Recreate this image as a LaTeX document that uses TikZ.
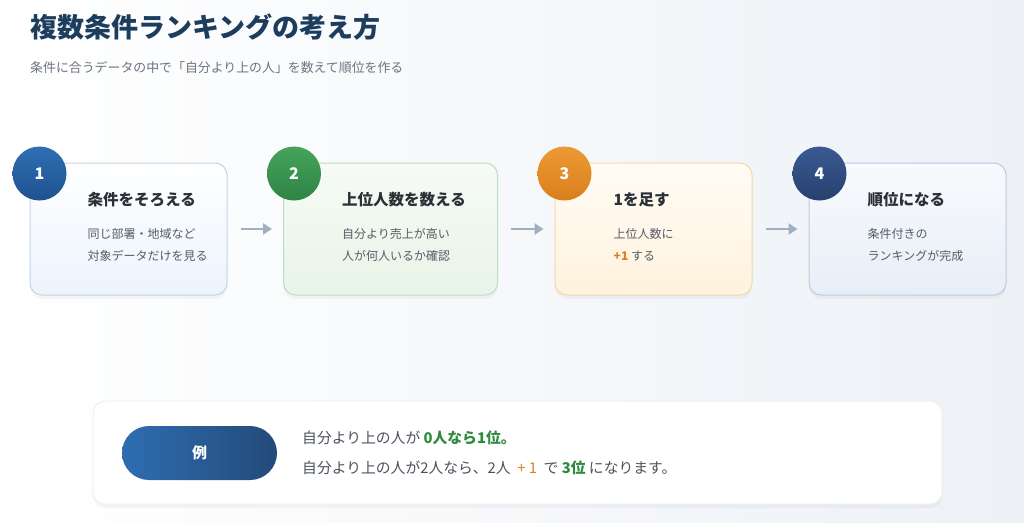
\documentclass[tikz,border=0pt]{standalone}
\usepackage{fontspec}
\setmainfont{Noto Sans CJK JP}
\usetikzlibrary{positioning,arrows.meta,calc,shadows}
\definecolor{haikei}{HTML}{EDF1F6}
\definecolor{kon}{HTML}{1C3D5E}
\definecolor{haiiro}{HTML}{6B7480}
\definecolor{moji}{HTML}{2B2F36}
\definecolor{usumoji}{HTML}{555C66}
\definecolor{yajiiro}{HTML}{9FB0C3}
\definecolor{ao}{HTML}{2E6FB4}
\definecolor{koiao}{HTML}{1F528E}
\definecolor{midori}{HTML}{45A35A}
\definecolor{koimidori2}{HTML}{2F8445}
\definecolor{daidai}{HTML}{EC9A34}
\definecolor{koidaidai2}{HTML}{D97F1C}
\definecolor{ai}{HTML}{3A5A92}
\definecolor{koiai}{HTML}{27406E}
\definecolor{koimidori}{HTML}{2E8B3E}
\definecolor{koidaidai}{HTML}{D9821F}
\definecolor{pillhidari}{HTML}{2E6DB2}
\definecolor{pillmigi}{HTML}{234A78}
\tikzset{
  hako/.style={rounded corners=12pt,line width=1pt,minimum width=197pt,minimum height=132pt,
    drop shadow={opacity=0.07,shadow xshift=0pt,shadow yshift=-4pt}},
  maru/.style={circle,minimum size=54pt,inner sep=0pt,text=white,font=\fontsize{16}{16}\selectfont\bfseries},
  midashi/.style={anchor=west,inner sep=0pt,text=moji,font=\fontsize{15.5}{18}\selectfont\bfseries},
  setsumei/.style={anchor=west,inner sep=0pt,align=left,text=usumoji,font=\fontsize{12}{22}\selectfont},
  yaji/.style={-{Triangle[length=9pt,width=11pt]},line width=2.5pt,draw=yajiiro,shorten <=13pt,shorten >=11pt},
  reibun/.style={anchor=west,inner sep=0pt,text=usumoji!90!black,font=\fontsize{14.8}{17}\selectfont},
}

\begin{document}
\begin{tikzpicture}[x=1pt,y=-1pt]
  \useasboundingbox (0,0) rectangle (1024,522);
  \shade[left color=white,right color=haikei] (0,0) rectangle (1024,522);

  % title
  \node[anchor=west,inner sep=0pt,text=kon,font=\fontsize{27}{30}\selectfont\bfseries] (daimei) at (30,27) {複数条件ランキングの考え方};
  \node[anchor=west,inner sep=0pt,text=haiiro,font=\fontsize{12.9}{15}\selectfont] (fukudai) at (30,68) {条件に合うデータの中で「自分より上の人」を数えて順位を作る};

  % steps
  \node[hako,draw={rgb,255:red,196;green,212;blue,228},top color=white,bottom color={rgb,255:red,236;green,244;blue,252}] (k1) at (128.5,229) {};
  \node[hako,draw={rgb,255:red,190;green,220;blue,195},minimum width=214pt,top color={rgb,255:red,246;green,251;blue,245},bottom color={rgb,255:red,232;green,244;blue,232}] (k2) at (390.5,229) {};
  \node[hako,draw={rgb,255:red,245;green,216;blue,170},top color={rgb,255:red,255;green,252;blue,245},bottom color={rgb,255:red,255;green,242;blue,222}] (k3) at (653.5,229) {};
  \node[hako,draw={rgb,255:red,190;green,202;blue,220},top color={rgb,255:red,248;green,250;blue,253},bottom color={rgb,255:red,232;green,238;blue,247}] (k4) at (907.5,229) {};

  \node[maru,top color=ao,bottom color=koiao] (m1) at ($(k1.north west)+(10,11)$) {1};
  \node[maru,top color=midori,bottom color=koimidori2] (m2) at ($(k2.north west)+(11,11)$) {2};
  \node[maru,top color=daidai,bottom color=koidaidai2] (m3) at ($(k3.north west)+(10,11)$) {3};
  \node[maru,top color=ai,bottom color=koiai] (m4) at ($(k4.north west)+(11,11)$) {4};

  \node[midashi] (t1) at ($(k1.west)+(58,-29)$) {条件をそろえる};
  \node[setsumei] (s1) at ($(k1.west)+(58,16)$) {同じ部署・地域など\\対象データだけを見る};
  \node[midashi] (t2) at ($(k2.west)+(59,-29)$) {上位人数を数える};
  \node[setsumei] (s2) at ($(k2.west)+(59,16)$) {自分より売上が高い\\人が何人いるか確認};
  \node[midashi] (t3) at ($(k3.west)+(59,-29)$) {1を足す};
  \node[setsumei] (s3) at ($(k3.west)+(59,16)$) {上位人数に\\{\color{koidaidai}\bfseries +1} する};
  \node[midashi] (t4) at ($(k4.west)+(59,-29)$) {順位になる};
  \node[setsumei] (s4) at ($(k4.west)+(59,16)$) {条件付きの\\ランキングが完成};

  \draw[yaji] (k1.east) -- (k2.west);
  \draw[yaji] (k2.east) -- (k3.west);
  \draw[yaji] (k3.east) -- (k4.west);

  % example
  \node[hako,draw=gray!12,fill=white,minimum width=849pt,minimum height=103pt] (rei) at (517.5,452.5) {};
  \node[rounded corners=27pt,minimum width=155pt,minimum height=54pt,left color=pillhidari,right color=pillmigi,
    text=white,font=\fontsize{15}{16}\selectfont\bfseries] (pill) at (199.5,453) {例};
  \node[reibun] (r1) at (302,438) {自分より上の人が {\color{koimidori}\bfseries 0人なら1位。}};
  \node[reibun] (r2) at (302,468) {自分より上の人が2人なら、2人\ \ {\color{koidaidai}+ 1}\ \ で {\color{koimidori}\bfseries 3位} になります。};
\end{tikzpicture}
\end{document}
